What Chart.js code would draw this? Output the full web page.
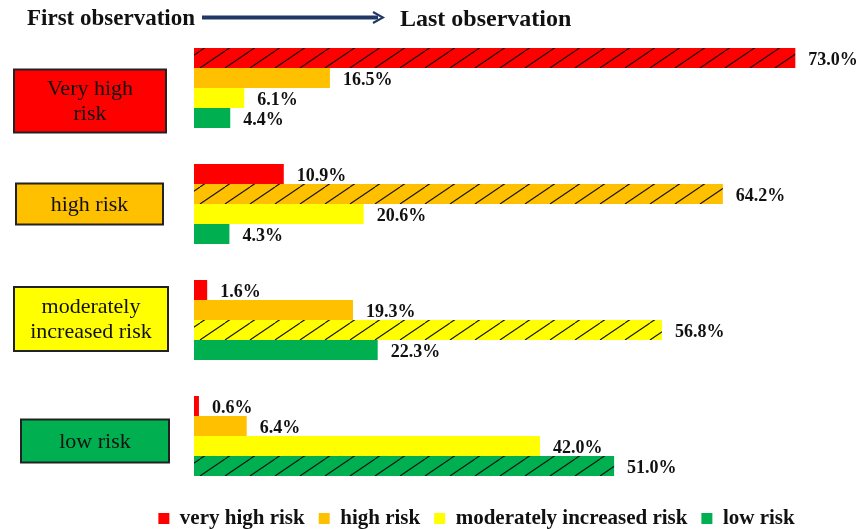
<!DOCTYPE html>
<html>
<head>
<meta charset="utf-8">
<script src="https://cdn.jsdelivr.net/npm/chart.js@4.4.1/dist/chart.umd.min.js"></script>
<style>
  html, body { margin: 0; padding: 0; background: #fff; }
  #wrap { width: 866px; height: 529px; }
</style>
</head>
<body>
<div id="wrap"><canvas id="riskchart"></canvas></div>
<script>
// first observation (rows) and last observation (series)
const categories = ['Very high risk', 'high risk', 'moderately increased risk', 'low risk'];
const seriesNames = ['very high risk', 'high risk', 'moderately increased risk', 'low risk'];
const veryHigh = [73.0, 10.9, 1.6, 0.6];
const high = [16.5, 64.2, 19.3, 6.4];
const moderate = [6.1, 20.6, 56.8, 42.0];
const low = [4.4, 4.3, 22.3, 51.0];

const colors = ['#FF0000', '#FFC000', '#FFFF00', '#00B050'];
const serif = "'Liberation Serif', 'Times New Roman', serif";

// boxes on the left, one per row (styling only)
const boxLines = [['Very high', 'risk'], ['high risk'], ['moderately', 'increased risk'], ['low risk']];
const boxGeom = [
  { x: 14, w: 152, h: 63, dy: 13 },
  { x: 16, w: 147, h: 41, dy: 0 },
  { x: 14, w: 154, h: 64, dy: -1 },
  { x: 21, w: 148, h: 43, dy: 5 }
];

function hatch(color) {
  const c = document.createElement('canvas');
  c.width = 25; c.height = 17;
  const g = c.getContext('2d');
  g.fillStyle = color;
  g.fillRect(0, 0, 25, 17);
  g.strokeStyle = '#111';
  g.lineWidth = 1.1;
  for (let k = -1; k <= 1; k++) {
    g.beginPath();
    g.moveTo(k * 25, 17);
    g.lineTo(k * 25 + 25, 0);
    g.stroke();
  }
  return g.createPattern(c, 'repeat');
}
const patterns = colors.map(hatch);

const valueLabels = {
  id: 'valueLabels',
  afterDatasetsDraw(chart) {
    const ctx = chart.ctx;
    ctx.save();
    ctx.font = 'bold 18px ' + serif;
    ctx.fillStyle = '#111';
    ctx.textAlign = 'left';
    ctx.textBaseline = 'middle';
    chart.data.datasets.forEach((ds, di) => {
      chart.getDatasetMeta(di).data.forEach((bar, i) => {
        ctx.fillText(ds.data[i].toFixed(1) + '%', bar.x + 13, bar.y + 2.5);
      });
    });
    ctx.restore();
  }
};

const sideBoxes = {
  id: 'sideBoxes',
  afterDraw(chart) {
    const ctx = chart.ctx;
    const y = chart.scales.y;
    ctx.save();
    ctx.font = '22px ' + serif;
    ctx.textAlign = 'center';
    ctx.textBaseline = 'middle';
    categories.forEach((cat, i) => {
      const b = boxGeom[i];
      const cy = y.getPixelForValue(i) + b.dy;
      const top = cy - b.h / 2;
      ctx.fillStyle = colors[i];
      ctx.fillRect(b.x, top, b.w, b.h);
      ctx.strokeStyle = '#222';
      ctx.lineWidth = 2;
      ctx.strokeRect(b.x, top, b.w, b.h);
      ctx.fillStyle = '#111';
      const lines = boxLines[i];
      lines.forEach((t, k) => {
        ctx.fillText(t, b.x + b.w / 2, cy + (k - (lines.length - 1) / 2) * 25 + 1);
      });
    });
    ctx.restore();
  }
};

const header = {
  id: 'header',
  afterDraw(chart) {
    const ctx = chart.ctx;
    ctx.save();
    ctx.fillStyle = '#111';
    ctx.textBaseline = 'middle';
    ctx.textAlign = 'left';
    ctx.font = 'bold 23px ' + serif;
    ctx.fillText('First observation', 27, 19);
    ctx.font = 'bold 24px ' + serif;
    ctx.fillText('Last observation', 400, 20);
    ctx.strokeStyle = '#1F3864';
    ctx.lineWidth = 4;
    ctx.beginPath();
    ctx.moveTo(202, 17.5);
    ctx.lineTo(378, 17.5);
    ctx.stroke();
    ctx.lineWidth = 2;
    ctx.beginPath();
    ctx.moveTo(373, 12);
    ctx.lineTo(383, 17.5);
    ctx.lineTo(373, 23);
    ctx.stroke();
    ctx.restore();
  }
};

const seriesData = [veryHigh, high, moderate, low];

new Chart(document.getElementById('riskchart'), {
  type: 'bar',
  data: {
    labels: categories,
    datasets: seriesNames.map((name, s) => ({
      label: name,
      data: seriesData[s],
      backgroundColor: (c) => (c.type === 'data' && c.dataIndex === s ? patterns[s] : colors[s]),
      borderWidth: 0,
      categoryPercentage: 0.69,
      barPercentage: 1
    }))
  },
  options: {
    indexAxis: 'y',
    responsive: true,
    maintainAspectRatio: false,
    animation: false,
    events: [],
    layout: { padding: { left: 100, right: 13, top: 30, bottom: -10 } },
    scales: {
      x: { display: false, min: 0, max: 80 },
      y: {
        display: true,
        ticks: { display: false },
        grid: { display: false },
        border: { display: false },
        afterFit(scale) { scale.width = 94; }
      }
    },
    plugins: {
      legend: {
        position: 'bottom',
        labels: {
          boxWidth: 11,
          boxHeight: 11,
          padding: 14,
          color: '#111',
          font: { family: serif, size: 21, weight: 'bold' },
          generateLabels(chart) {
            const items = Chart.defaults.plugins.legend.labels.generateLabels(chart);
            items.forEach((it, i) => { it.fillStyle = colors[i]; it.strokeStyle = colors[i]; it.lineWidth = 0; });
            return items;
          }
        }
      },
      tooltip: { enabled: false }
    }
  },
  plugins: [valueLabels, sideBoxes, header]
});
</script>
</body>
</html>
